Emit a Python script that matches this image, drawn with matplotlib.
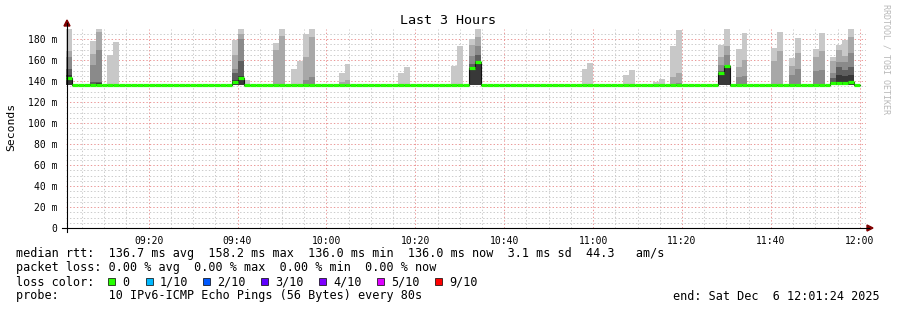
import numpy as np
import matplotlib.pyplot as plt
from matplotlib.patches import Rectangle, Polygon
from matplotlib.lines import Line2D

plt.rcParams['lines.scale_dashes'] = False
MONO = 'DejaVu Sans Mono'

# ---- data (times in minutes after 09:00, values in ms) ----
t_start = 1.4            # 09:01:24
step = 80 / 60.0         # one probe every 80 s
n_steps = 135
base_rtt = 136.0
base_median = 136.3

# steps that show smoke, with their upper pings p5..p9 (lower pings sit at base_rtt)
smoke_step = [0, 4, 5, 7, 8, 28, 29, 30, 35, 36, 38, 39, 40, 41, 46, 47, 56, 57,
              65, 66, 68, 69, 87, 88, 94, 95, 99, 100, 102, 103, 110, 111, 113, 114,
              119, 120, 122, 123, 126, 127, 129, 130, 131, 132]
smoke_pings = [
    (146, 151, 162.5, 169, 190), (137.5, 139, 155.5, 166, 178), (138, 139, 169.5, 187, 190),
    (136, 136, 136, 136, 165), (136, 136, 136, 136, 177),
    (141, 148, 151, 165, 179), (145, 159, 180, 185, 190), (136, 136, 136, 136, 141),
    (136, 136, 136, 169.5, 176), (136, 136, 136, 183, 190),
    (136, 136, 136, 136, 151.4), (136, 136, 136, 136, 158.7),
    (136, 136, 141, 163, 185), (136, 136, 144, 182, 190),
    (136, 136, 136, 138.6, 148), (136, 136, 136, 141, 156),
    (136, 136, 136, 136, 148), (136, 136, 136, 136, 153.7),
    (136, 136, 136, 136, 154.6), (136, 136, 136, 136, 173),
    (151.4, 156, 164, 174.6, 180), (159, 165, 173.7, 181.6, 190),
    (136, 136, 136, 136, 151.4), (136, 136, 136, 136, 157),
    (136, 136, 136, 136, 145.7), (136, 136, 136, 136, 150),
    (136, 136, 136, 136, 139), (136, 136, 136, 136, 142),
    (136, 136, 136, 144, 173.3), (136, 136, 137.8, 147.6, 188.6),
    (148, 149.5, 155, 162.5, 174), (153, 154, 165, 173.7, 190),
    (136, 136, 144, 153, 170.5), (136, 136, 145, 160, 185.4),
    (136, 136, 136, 159.4, 171.4), (136, 136, 136, 169, 186.3),
    (136, 136, 146, 154.6, 162), (136, 136, 151.4, 166.3, 181),
    (136, 136, 149.8, 162.5, 170.5), (136, 136, 150.5, 169, 185.7),
    (139, 143, 148, 158.7, 163), (146, 153, 158.4, 169.5, 174.6),
    (145, 150, 157.8, 164, 179), (146, 153.6, 166.3, 181.6, 190),
]

# steps where the median is above the base line
median_step = [0, 28, 29, 68, 69, 110, 111, 129, 130, 131, 132]
median_val = [143, 139.5, 142.5, 152, 158, 148, 154.5, 137.8, 138.3, 138.3, 139.2]
last_data_step = 133

smoke_shades = ['#c8c8c8', '#a8a8a8', '#8a8a8a', '#5e5e5e', '#383838']  # light -> dark

x_labels = ['09:20', '09:40', '10:00', '10:20', '10:40', '11:00', '11:20', '11:40', '12:00']
x_ticks = [20 + 20 * i for i in range(len(x_labels))]
y_ticks = [0, 20, 40, 60, 80, 100, 120, 140, 160, 180]
y_labels = ['0'] + ['%d m' % v for v in y_ticks[1:]]

loss_labels = ['0', '1/10', '2/10', '3/10', '4/10', '5/10', '9/10']
loss_colors = ['#26ff00', '#00b8ff', '#0059ff', '#5e00ff', '#7e00ff', '#dd00ff', '#ff0000']

line_rtt = 'median rtt:  136.7 ms avg  158.2 ms max  136.0 ms min  136.0 ms now  3.1 ms sd  44.3   am/s'
line_loss = 'packet loss: 0.00 % avg  0.00 % max  0.00 % min  0.00 % now'
line_probe = 'probe:       10 IPv6-ICMP Echo Pings (56 Bytes) every 80s'
end_text = 'end: Sat Dec  6 12:01:24 2025'

# ---- figure ----
W, H = 897, 310
fig = plt.figure(figsize=(W / 100, H / 100), dpi=100)
fig.patch.set_facecolor('white')


def fx(x):
    return x / W


def fy(y):
    return 1 - y / H


ax = fig.add_axes([fx(66), fy(228), 800 / W, 199.5 / H])
ax.set_xlim(t_start, t_start + n_steps * step)
ax.set_ylim(0, 190)
for s in ax.spines.values():
    s.set_visible(False)

ax.set_xticks(x_ticks)
ax.set_xticklabels(x_labels, fontsize=7, family=MONO)
ax.set_xticks(np.arange(5, 185, 5), minor=True)
ax.set_yticks(y_ticks)
ax.set_yticklabels(y_labels, fontsize=7, family=MONO)
ax.set_yticks(np.arange(0, 190, 5), minor=True)
ax.tick_params(which='both', length=0)
ax.tick_params(axis='x', pad=6)
ax.tick_params(axis='y', pad=6)
ax.set_axisbelow(True)
ax.grid(which='minor', color='#cccccc', linestyle=(0, (1, 1.5)), linewidth=0.72)
ax.grid(which='major', color='#eb9a9a', linestyle=(0, (1, 1.5)), linewidth=0.72)

# smoke
xs = np.array([t_start + k * step for k in smoke_step])
pings = np.array(smoke_pings)
for j in range(5):
    tops = pings[:, 4 - j]
    ax.bar(xs, tops - base_rtt, bottom=base_rtt, width=step, align='edge',
           color=smoke_shades[j], linewidth=0, zorder=2)

# median
med = np.full(last_data_step + 1, base_median)
for k, v in zip(median_step, median_val):
    med[k] = v
left = t_start + np.arange(last_data_step + 1) * step
ax.step(np.append(left, left[-1] + step), np.append(med, med[-1]), where='post',
        color='#111111', linewidth=0.8, zorder=3)
hl = ax.hlines(med, left, left + step, color='#26ff00', linewidth=2.3, zorder=4)
hl.set_capstyle('butt')

# axis lines and arrows
fig.add_artist(Line2D([fx(67), fx(67)], [fy(232), fy(23)], color='black', lw=0.8))
fig.add_artist(Line2D([fx(62), fx(869)], [fy(228), fy(228)], color='black', lw=0.8))
fig.add_artist(Polygon([(fx(64), fy(26)), (fx(70), fy(26)), (fx(67), fy(20))],
                       closed=True, color='#800000', transform=fig.transFigure))
fig.add_artist(Polygon([(fx(867), fy(225)), (fx(867), fy(231)), (fx(873), fy(228))],
                       closed=True, color='#800000', transform=fig.transFigure))

# titles
fig.text(fx(448), fy(20), 'Last 3 Hours', ha='center', va='center', fontsize=9.6, family=MONO)
fig.text(fx(11), fy(127), 'Seconds', rotation=90, ha='center', va='center', fontsize=8.2, family=MONO)
fig.text(fx(886), fy(4), 'RRDTOOL / TOBI OETIKER', rotation=270, ha='center', va='top',
         fontsize=6, family=MONO, color='#b8b8b8')

# legend block
fig.text(fx(16), fy(254), line_rtt, ha='left', va='center', fontsize=8.5, family=MONO)
fig.text(fx(16), fy(268), line_loss, ha='left', va='center', fontsize=8.5, family=MONO)
fig.text(fx(16), fy(282), 'loss color:', ha='left', va='center', fontsize=8.5, family=MONO)
sq_x = [108, 146, 203, 261, 319, 377, 435]
for px, lab, col in zip(sq_x, loss_labels, loss_colors):
    fig.add_artist(Rectangle((fx(px), fy(285)), 7 / W, 7 / H, facecolor=col,
                             edgecolor='black', linewidth=0.5, transform=fig.transFigure))
    fig.text(fx(px + 14), fy(282), lab, ha='left', va='center', fontsize=8.5, family=MONO)
fig.text(fx(16), fy(296), line_probe, ha='left', va='center', fontsize=8.5, family=MONO)
fig.text(fx(880), fy(296), end_text, ha='right', va='center', fontsize=8.5, family=MONO)

fig.savefig('out.png', dpi=100)
